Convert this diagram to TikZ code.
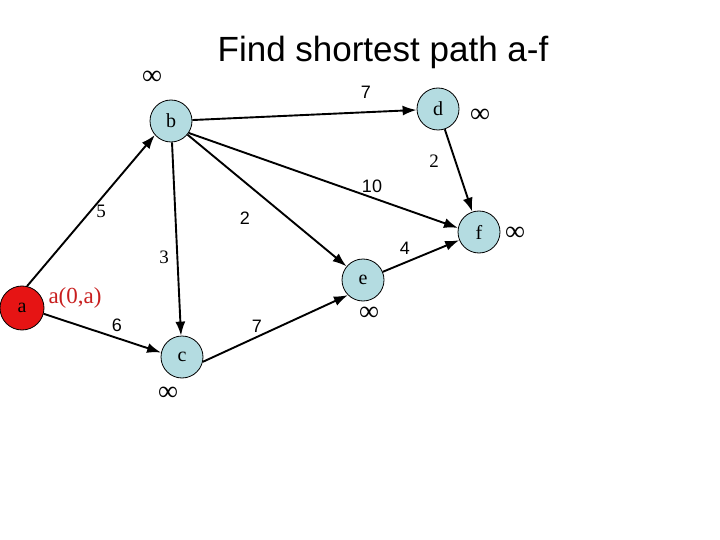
\documentclass[tikz,border=0pt]{standalone}
\usepackage{fontspec}
\setmainfont{Liberation Serif}
\newfontfamily\arialf{Liberation Sans}
\usetikzlibrary{arrows.meta}
\definecolor{nodeblue}{RGB}{180,220,225}
\definecolor{nodered}{RGB}{230,20,20}
\definecolor{labred}{RGB}{200,30,30}
\begin{document}
\begin{tikzpicture}[x=1pt,y=-1pt,
  vert/.style={circle,draw=black,line width=0.8pt,fill=nodeblue,minimum size=42pt,inner sep=0pt,font=\fontsize{20}{20}\selectfont},
  edge/.style={line width=1.9pt,-{Latex[length=14pt,width=10pt]}},
  wts/.style={font=\arialf\fontsize{18}{18}\selectfont},
  wtr/.style={font=\fontsize{19}{19}\selectfont},
  inf/.style={font=\fontsize{28}{28}\selectfont}]
\useasboundingbox (0,0) rectangle (720,540);
\node[font=\arialf\fontsize{35}{35}\selectfont] (title) at (383,52) {Find shortest path a-f};
\node[vert,fill=nodered,minimum size=44pt] (a) at (22,308) {a};
\node[vert] (b) at (171,121) {b};
\node[vert] (c) at (182,357) {c};
\node[vert] (d) at (438,109) {d};
\node[vert] (e) at (363,280) {e};
\node[vert] (f) at (479,232) {f};
\draw[edge] (a.77) -- (b.-139);
\draw[edge] (a.-15) -- (c.168);
\draw[edge] (b) -- (d);
\draw[edge] (b) -- (c);
\draw[edge] (b) -- (e);
\draw[edge] (b.-34) -- (f.169);
\draw[edge] (d) -- (f);
\draw[edge] (c.-13) -- (e.-135);
\draw[edge] (e) -- (f);
\node[wtr] (w5) at (101,211) {5};
\node[wts] (w7a) at (366,92) {7};
\node[wtr] (w3) at (164,257) {3};
\node[wts] (w2a) at (245,218) {2};
\node[wts] (w10) at (372,186) {10};
\node[wtr] (w2b) at (434,161) {2};
\node[wts] (w6) at (117,325) {6};
\node[wts] (w7b) at (257,326) {7};
\node[wts] (w4) at (405,248) {4};
\node[inf] (ib) at (152,78) {∞};
\node[inf] (id) at (480,116) {∞};
\node[inf] (if) at (515,234) {∞};
\node[inf] (ie) at (369,314) {∞};
\node[inf] (ic) at (168,394) {∞};
\node[text=labred,font=\fontsize{23}{23}\selectfont] (al) at (75,298) {a(0,a)};
\end{tikzpicture}
\end{document}
